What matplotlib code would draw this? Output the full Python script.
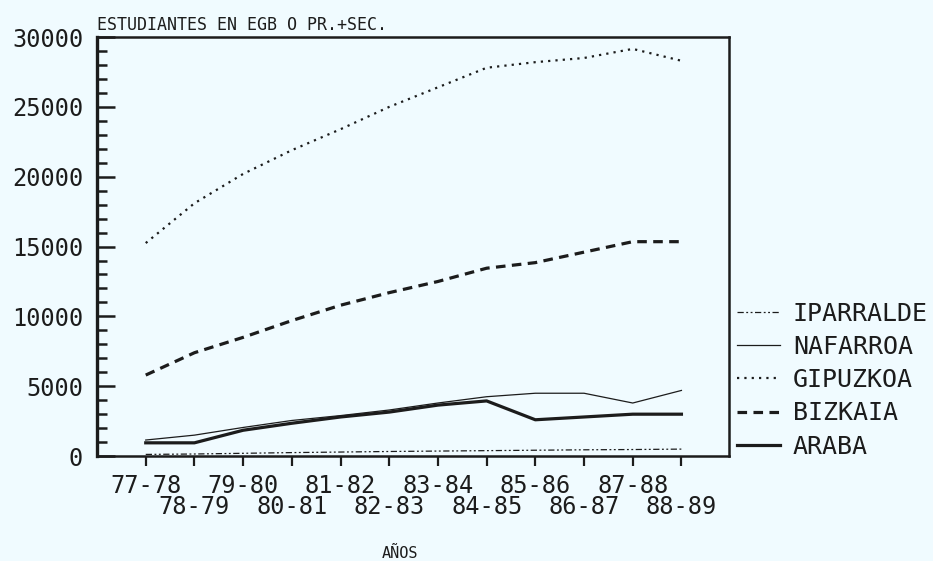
import matplotlib
matplotlib.use('Agg')
import matplotlib.pyplot as plt
from matplotlib.ticker import MultipleLocator

# school years on the x axis
years = ['77-78', '78-79', '79-80', '80-81', '81-82', '82-83',
         '83-84', '84-85', '85-86', '86-87', '87-88', '88-89']

# students per province (EGB o PR.+SEC.)
araba = [950, 950, 1850, 2350, 2800, 3150, 3650, 3950, 2600, 2800, 3000, 3000]
bizkaia = [5800, 7400, 8500, 9700, 10800, 11700, 12500, 13450, 13850, 14600, 15350, 15350]
gipuzkoa = [15250, 18100, 20200, 21900, 23400, 25000, 26400, 27800, 28200, 28500, 29150, 28300]
nafarroa = [1150, 1500, 2050, 2550, 2900, 3300, 3800, 4250, 4500, 4500, 3800, 4700]
iparralde = [120, 150, 200, 250, 290, 330, 360, 390, 420, 450, 470, 500]

ink = '#1c1c1c'
bg = '#f0fbff'
plt.rcParams['font.family'] = ['DejaVu Sans Mono']
plt.rcParams['text.color'] = ink

fig = plt.figure(figsize=(9.33, 5.61), dpi=100, facecolor=bg)
ax = fig.add_axes([0.104, 0.187, 0.677, 0.747], facecolor=bg)

x = list(range(len(years)))
l_araba, = ax.plot(x, araba, color=ink, lw=2.3, label='ARABA')
l_bizkaia, = ax.plot(x, bizkaia, color=ink, lw=2.3, dashes=(3, 2), label='BIZKAIA')
l_gipuzkoa, = ax.plot(x, gipuzkoa, color=ink, lw=1.6, dashes=(1, 2.3), label='GIPUZKOA')
l_nafarroa, = ax.plot(x, nafarroa, color=ink, lw=0.9, label='NAFARROA')
l_iparralde, = ax.plot(x, iparralde, color=ink, lw=0.9,
                       dashes=(5, 2, 1.5, 2, 1.5, 2), label='IPARRALDE')

ax.set_xlim(-1.0, 11.97)
ax.set_ylim(0, 30000)

# y axis: inward ticks, major every 5000, minor every 1000
ax.yaxis.set_major_locator(MultipleLocator(5000))
ax.yaxis.set_minor_locator(MultipleLocator(1000))
ax.tick_params(axis='y', which='major', direction='in', length=13, width=1.8,
               labelsize=17, pad=10, colors=ink)
ax.tick_params(axis='y', which='minor', direction='in', length=7, width=1.8, colors=ink)

# x axis: even years on the first row, odd years on the second row
even = x[0::2]
odd = x[1::2]
ax.set_xticks(even, years[0::2])
ax.set_xticks(odd, years[1::2], minor=True)
ax.tick_params(axis='x', which='both', direction='out', length=7, width=1.6,
               labelsize=17, colors=ink)
ax.tick_params(axis='x', which='major', pad=6)
ax.tick_params(axis='x', which='minor', pad=21)

for side, sp in ax.spines.items():
    sp.set_color(ink)
    sp.set_linewidth(1.8)
ax.spines['left'].set_linewidth(2.4)

ax.set_title('ESTUDIANTES EN EGB O PR.+SEC.', loc='left', fontsize=12, pad=5, color=ink)
ax.set_xlabel('AÑOS', fontsize=11, color=ink)
ax.xaxis.set_label_coords(0.48, -0.215)

ax.legend(handles=[l_iparralde, l_nafarroa, l_gipuzkoa, l_bizkaia, l_araba],
          loc='center left', bbox_to_anchor=(1.013, 0.181), frameon=False,
          borderpad=0, borderaxespad=0, handlelength=1.72, handletextpad=0.52,
          labelspacing=0.37, fontsize=18)

fig.savefig('out.png', dpi=100, facecolor=bg)
